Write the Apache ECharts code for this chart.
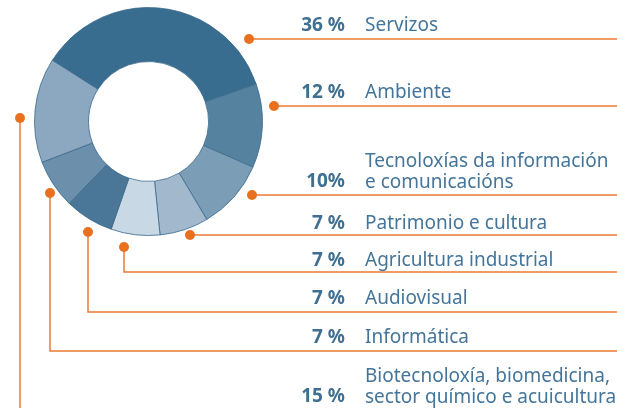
<!DOCTYPE html>
<html>
<head>
<meta charset="utf-8">
<script src="https://cdn.jsdelivr.net/npm/echarts@6/dist/echarts.min.js"></script>
<style>
  html, body { margin: 0; padding: 0; background: #fff; }
  #main { width: 617px; height: 408px; }
</style>
</head>
<body>
<div id="main"></div>
<script>
// data
const sectors = ['Servizos', 'Ambiente', 'Tecnoloxías da información\ne comunicacións', 'Patrimonio e cultura',
  'Agricultura industrial', 'Audiovisual', 'Informática', 'Biotecnoloxía, biomedicina,\nsector químico e acuicultura'];
const shares = [36, 12, 10, 7, 7, 7, 7, 15];
const shareLabels = ['36 %', '12 %', '10%', '7 %', '7 %', '7 %', '7 %', '15 %'];
const sliceColors = ['#386d8f', '#55829f', '#7b9db6', '#a2b9cd', '#c9d8e5', '#4a7797', '#6c8fab', '#8ca8c0'];

// leader lines: dot position, elbow y (horizontal run), label centre y
const leaders = [
  { dot: [249, 39], lineY: 39, textY: 25 },
  { dot: [274, 106], lineY: 106, textY: 92 },
  { dot: [252, 195], lineY: 195, textY: 181 },
  { dot: [190, 235], lineY: 235, textY: 223 },
  { dot: [124, 247], lineY: 272, textY: 260 },
  { dot: [88, 232], lineY: 312, textY: 298 },
  { dot: [50, 193], lineY: 351, textY: 337 },
  { dot: [20, 118], lineY: null, textY: 396 }
];

const orange = '#ec7a35';
const textBlue = '#3f6f91';
const font = '"Noto Sans", "Open Sans", sans-serif';

const chart = echarts.init(document.getElementById('main'));

const graphics = [];
leaders.forEach((l, i) => {
  const [dx, dy] = l.dot;
  let points;
  if (l.lineY === null) points = [[dx, dy], [dx, 410]];
  else if (l.lineY === dy) points = [[dx, dy], [620, dy]];
  else points = [[dx, dy], [dx, l.lineY], [620, l.lineY]];
  graphics.push({
    type: 'polyline', z: 1,
    shape: { points: points },
    style: { stroke: orange, lineWidth: 1.5, fill: null }
  });
  graphics.push({
    type: 'circle', z: 2,
    shape: { cx: dx, cy: dy, r: 5 },
    style: { fill: '#e8701e' }
  });
  const twoLines = sectors[i].indexOf('\n') >= 0;
  graphics.push({
    type: 'text', z: 3,
    style: {
      text: shareLabels[i], x: 345, y: l.textY + 1,
      align: 'right', verticalAlign: 'middle',
      fontFamily: font, fontSize: 19, fontWeight: 'bold', fill: textBlue
    }
  });
  graphics.push({
    type: 'text', z: 3,
    style: {
      text: sectors[i], x: 365, y: twoLines ? l.textY + 12 : l.textY + 1,
      align: 'left', verticalAlign: twoLines ? 'bottom' : 'middle',
      lineHeight: 21,
      fontFamily: font, fontSize: 19, fill: '#44759a'
    }
  });
});

chart.setOption({
  animation: false,
  graphic: graphics,
  series: [{
    type: 'pie',
    center: [148.5, 121.5],
    radius: [60, 114],
    startAngle: 147.5,
    clockwise: true,
    label: { show: false },
    labelLine: { show: false },
    itemStyle: { borderColor: '#3a6a8c', borderWidth: 0.8 },
    emphasis: { disabled: true },
    data: sectors.map((s, i) => ({ name: s, value: shares[i], itemStyle: { color: sliceColors[i] } }))
  }]
});
</script>
</body>
</html>
